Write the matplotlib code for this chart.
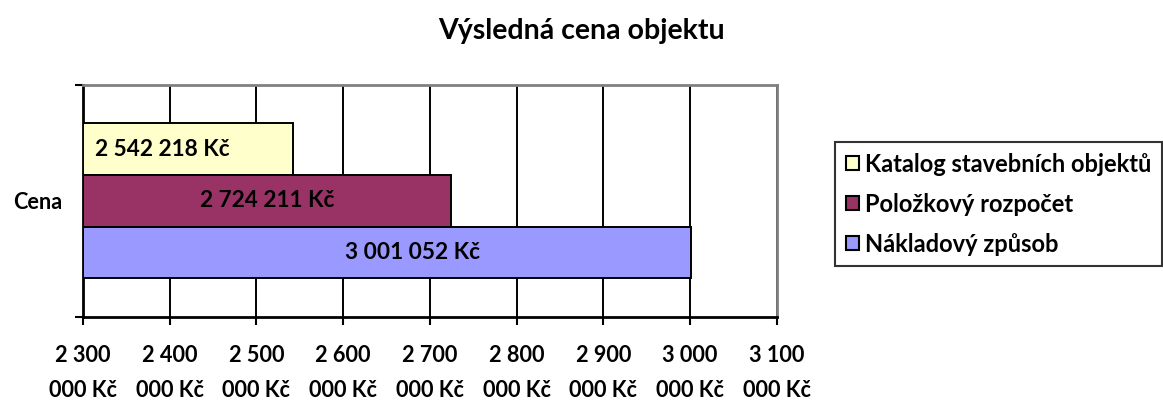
import matplotlib
matplotlib.use('Agg')
import matplotlib.pyplot as plt
from matplotlib.patches import Patch

plt.rcParams['font.family'] = ['Lato', 'DejaVu Sans']
plt.rcParams['font.weight'] = 'bold'

series = ['Katalog stavebních objektů', 'Položkový rozpočet', 'Nákladový způsob']
values = [2542218, 2724211, 3001052]
colors = ['#FFFFCC', '#993366', '#9999FF']
category = 'Cena'
ticks = [2300000, 2400000, 2500000, 2600000, 2700000, 2800000, 2900000, 3000000, 3100000]


def kc(v):
    s = '{:,}'.format(int(v)).replace(',', ' ')
    return s + ' Kč'


fig = plt.figure(figsize=(11.63, 4.01), dpi=100)
ax = fig.add_axes([0.0714, 0.2095, 0.5966, 0.5786])

ypos = [0.724, 0.5, 0.278]
h = 0.224
for y, v, c in zip(ypos, values, colors):
    ax.barh(y, v - ticks[0], left=ticks[0], height=h, color=c,
            edgecolor='black', linewidth=1.4, zorder=3)

# data labels (Excel puts them a bit off-centre)
offsets = [-26, 0, 25]
for y, v, off in zip(ypos, values, offsets):
    ax.annotate(kc(v), xy=((ticks[0] + v) / 2, y), xytext=(off, 0),
                textcoords='offset pixels', ha='center', va='center',
                fontsize=16.3, fontweight='bold', zorder=4)

ax.set_xlim(ticks[0], ticks[-1])
ax.set_ylim(0, 1)
ax.set_xticks(ticks)
ax.set_xticklabels([kc(t).replace(' 000 Kč', '\n000 Kč') for t in ticks],
                   fontsize=15.6, fontweight='bold', linespacing=1.85)
ax.tick_params(axis='x', length=6, width=1.5, pad=14, direction='out')
ax.grid(axis='x', color='black', linewidth=1.4, zorder=1)

ax.set_yticks([0.5])
ax.set_yticklabels([category], fontsize=15.6, fontweight='bold')
ax.tick_params(axis='y', length=0, pad=15)
ax.set_yticks([0, 1], minor=True)
ax.tick_params(axis='y', which='minor', length=6, width=1.5)

for s in ['left', 'bottom']:
    ax.spines[s].set_linewidth(2)
    ax.spines[s].set_color('black')
for s in ['top', 'right']:
    ax.spines[s].set_linewidth(2)
    ax.spines[s].set_color('#808080')

fig.suptitle('Výsledná cena objektu', fontsize=20.5, fontweight='bold', y=0.955)

handles = [Patch(facecolor=c, edgecolor='black', linewidth=1.5) for c in colors]
leg = fig.legend(handles, series, loc='upper left', bbox_to_anchor=(0.718, 0.646),
                 frameon=True, fancybox=False, prop={'weight': 'bold', 'size': 17},
                 handlelength=0.55, handleheight=0.55, handletextpad=0.25,
                 labelspacing=0.72, borderpad=0.45, borderaxespad=0)
leg.get_frame().set_edgecolor('black')
leg.get_frame().set_linewidth(1.5)

fig.savefig('out.png', dpi=100)
